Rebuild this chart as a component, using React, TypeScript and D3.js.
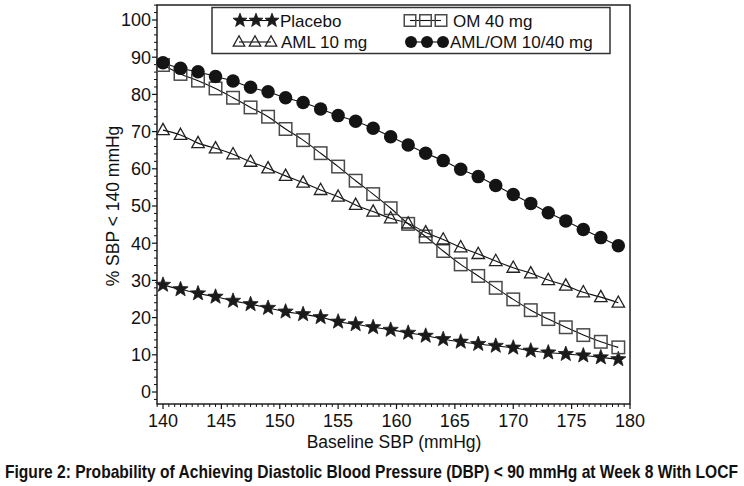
import React from "react";
import * as d3 from "d3";

const baselineSBP = [140, 141.5, 143, 144.5, 146, 147.5, 149, 150.5, 152, 153.5, 155, 156.5, 158, 159.5, 161, 162.5, 164, 165.5, 167, 168.5, 170, 171.5, 173, 174.5, 176, 177.5, 179];
const placebo = [28.8, 27.6, 26.5, 25.6, 24.5, 23.6, 22.6, 21.6, 20.9, 20.1, 18.9, 18.2, 17.4, 16.7, 15.9, 15.1, 14.2, 13.5, 12.9, 12.4, 11.9, 11.1, 10.6, 10.2, 9.8, 9.3, 8.8];
const om40 = [87.9, 85.5, 83.7, 81.6, 79.1, 76.5, 74.0, 70.7, 67.7, 64.2, 60.6, 56.8, 53.2, 49.4, 45.2, 41.8, 37.9, 34.3, 31.2, 28.0, 24.9, 22.0, 19.6, 17.4, 15.3, 13.5, 12.0];
const aml10 = [70.4, 69.1, 66.9, 65.5, 63.9, 61.9, 60.1, 58.1, 56.3, 54.3, 52.5, 50.3, 48.5, 46.7, 45.3, 42.9, 41.0, 38.9, 37.1, 35.2, 33.4, 31.9, 30.1, 28.6, 26.8, 25.5, 24.0];
const amlOm = [88.5, 87.0, 86.1, 84.8, 83.6, 81.9, 80.7, 79.1, 77.8, 76.1, 74.3, 72.8, 70.9, 68.6, 66.4, 64.2, 62.2, 59.9, 57.9, 55.5, 53.1, 50.7, 48.2, 46.0, 43.7, 41.5, 39.3];
const xTicks = [140, 145, 150, 155, 160, 165, 170, 175, 180];
const yTicks = [0, 10, 20, 30, 40, 50, 60, 70, 80, 90, 100];
const legendLabels = ["Placebo", "OM 40 mg", "AML 10 mg", "AML/OM 10/40 mg"];

const FONT = "'Liberation Sans', Arial, Helvetica, sans-serif";

function starPath(cx: number, cy: number, R: number, ratio = 0.42) {
  const pts: string[] = [];
  for (let i = 0; i < 10; i++) {
    const a = -Math.PI / 2 + (i * Math.PI) / 5;
    const r = i % 2 === 0 ? R : R * ratio;
    pts.push(`${(cx + r * Math.cos(a)).toFixed(2)},${(cy + r * Math.sin(a)).toFixed(2)}`);
  }
  return "M" + pts.join("L") + "Z";
}

function trianglePath(cx: number, cy: number, s: number) {
  const h = s * 0.9;
  return `M${cx},${cy - h * 0.6}L${cx + s / 2},${cy + h * 0.4}L${cx - s / 2},${cy + h * 0.4}Z`;
}

type Kind = "star" | "square" | "triangle" | "circle";

function Marker({ kind, x, y, size }: { kind: Kind; x: number; y: number; size: number }) {
  if (kind === "star") return <path d={starPath(x, y, size * 0.64)} fill="#1a1a1a" stroke="#1a1a1a" strokeWidth={0.8} strokeLinejoin="round" />;
  if (kind === "square")
    return <rect x={x - size / 2} y={y - size / 2} width={size} height={size} fill="none" stroke="#4a4a4a" strokeWidth={1.5} />;
  if (kind === "triangle") return <path d={trianglePath(x, y, size)} fill="none" stroke="#222" strokeWidth={1.3} />;
  return <circle cx={x} cy={y} r={size / 2} fill="#141414" />;
}

export default function App() {
  const W = 744, H = 486;
  const x = d3.scaleLinear().domain([140, 180]).range([163, 630]);
  const y = d3.scaleLinear().domain([0, 100]).range([392, 20]);
  const left = 157, right = 630, top = 5, bottom = 404;

  const line = d3
    .line<number>()
    .x((_, i) => x(baselineSBP[i]))
    .y((d) => y(d))
    .curve(d3.curveMonotoneX);

  const series: { data: number[]; kind: Kind }[] = [
    { data: placebo, kind: "star" },
    { data: om40, kind: "square" },
    { data: aml10, kind: "triangle" },
    { data: amlOm, kind: "circle" },
  ];

  const xMinor = d3.range(139.5, 180.01, 0.5).filter((v) => Math.abs(v % 5) > 1e-6);
  const yMinor = d3.range(-2, 104.01, 2).filter((v) => Math.abs(v % 10) > 1e-6);

  const legend: { kind: Kind; label: string; sx: number[]; sy: number; tx: number }[] = [
    { kind: "star", label: legendLabels[0], sx: [240, 256, 272], sy: 20.5, tx: 280 },
    { kind: "square", label: legendLabels[1], sx: [410, 425.5, 441], sy: 20.5, tx: 453 },
    { kind: "triangle", label: legendLabels[2], sx: [239, 255, 271], sy: 42, tx: 281 },
    { kind: "circle", label: legendLabels[3], sx: [411, 427, 443], sy: 42, tx: 450 },
  ];

  const capScale = 0.74;

  return (
    <svg width={W} height={H} style={{ display: "block", position: "absolute", left: 0, top: 0, background: "#fff" }}>
      <rect x={0} y={0} width={W} height={H} fill="#fff" />
      {/* frame */}
      <rect x={left} y={top} width={right - left} height={bottom - top} fill="none" stroke="#111" strokeWidth={1.4} />

      {/* x ticks */}
      {xTicks.map((t) => (
        <g key={"xt" + t}>
          <line x1={x(t)} x2={x(t)} y1={bottom} y2={bottom + 5} stroke="#111" strokeWidth={1.2} />
          <text x={x(t)} y={427} textAnchor="middle" fontFamily={FONT} fontSize={18} fill="#111">
            {t}
          </text>
        </g>
      ))}
      {xMinor.map((t) => (
        <line key={"xm" + t} x1={x(t)} x2={x(t)} y1={bottom} y2={bottom + 3} stroke="#111" strokeWidth={1} />
      ))}

      {/* y ticks */}
      {yTicks.map((t) => (
        <g key={"yt" + t}>
          <line x1={left - 5} x2={left} y1={y(t)} y2={y(t)} stroke="#111" strokeWidth={1.2} />
          <text x={151} y={y(t) + 6.3} textAnchor="end" fontFamily={FONT} fontSize={18} fill="#111">
            {t}
          </text>
        </g>
      ))}
      {yMinor.map((t) => (
        <line key={"ym" + t} x1={left - 3} x2={left} y1={y(t)} y2={y(t)} stroke="#111" strokeWidth={1} />
      ))}

      {/* axis titles */}
      <text x={394} y={448} textAnchor="middle" fontFamily={FONT} fontSize={17.5} fill="#111">
        Baseline SBP (mmHg)
      </text>
      <text
        transform={`translate(119,206) rotate(-90)`}
        textAnchor="middle"
        fontFamily={FONT}
        fontSize={17.5}
        fill="#111"
      >
        % SBP &lt; 140 mmHg
      </text>

      {/* lines */}
      {series.map((s, i) => (
        <path key={"l" + i} d={line(s.data) || ""} fill="none" stroke="#111" strokeWidth={1.1} />
      ))}
      {/* markers */}
      {series.map((s, i) => (
        <g key={"m" + i}>
          {s.data.map((v, j) => (
            <Marker key={j} kind={s.kind} x={x(baselineSBP[j])} y={y(v)} size={s.kind === "circle" ? 13.5 : 12.5} />
          ))}
        </g>
      ))}

      {/* legend */}
      <rect x={212} y={7.5} width={398} height={46} fill="#fff" stroke="#333" strokeWidth={1.5} />
      {legend.map((l, i) => (
        <g key={"lg" + i}>
          <line x1={l.sx[0]} x2={l.sx[2]} y1={l.sy} y2={l.sy} stroke="#111" strokeWidth={1.1} />
          {l.sx.map((sx, k) => (
            <Marker key={k} kind={l.kind} x={sx} y={l.sy} size={l.kind === "circle" ? 12 : 11.5} />
          ))}
          <text x={l.tx} y={l.sy + 6} fontFamily={FONT} fontSize={17} fill="#111">
            {l.label}
          </text>
        </g>
      ))}

      {/* caption */}
      <text
        transform={`translate(5,478) scale(${capScale},1)`}
        x={0}
        y={0}
        fontFamily={FONT}
        fontWeight="bold"
        fontSize={18}
        fill="#111"
        textLength={733 / capScale}
        lengthAdjust="spacingAndGlyphs"
      >
        Figure 2: Probability of Achieving Diastolic Blood Pressure (DBP) &lt; 90 mmHg at Week 8 With LOCF
      </text>
    </svg>
  );
}
